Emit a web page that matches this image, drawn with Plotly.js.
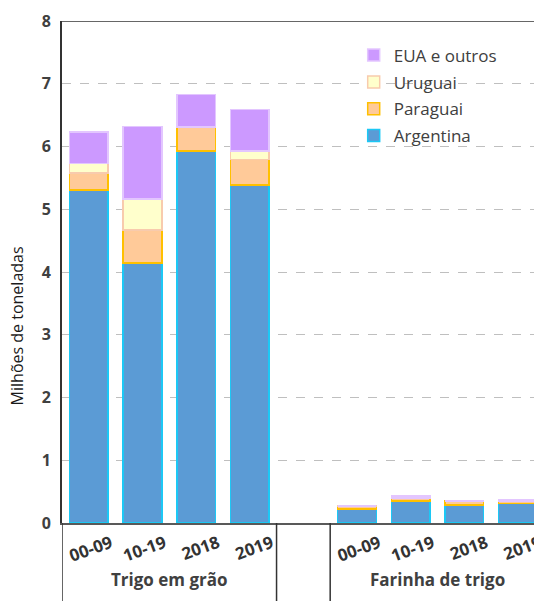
<!DOCTYPE html>
<html>
<head>
<meta charset="utf-8">
<script src="https://cdn.plot.ly/plotly-3.0.1.min.js"></script>
<style>html,body{margin:0;padding:0;background:#fff}#chart{width:534px;height:601px}</style>
</head>
<body>
<div id="chart"></div>
<script>
// Category slots (slot 4 is the empty gap between the two groups)
const categoryLabels = ["00-09", "10-19", "2018", "2019", "", "00-09", "10-19", "2018", "2019"];
const categoryPos = [0, 1, 2, 3, 4, 5, 6, 7, 8];
const barPos = [0, 1, 2, 3, 5, 6, 7, 8];
const groupLabels = ["Trigo em grão", "Farinha de trigo"];
const groupCenters = [1.5, 6.5];
const dividerPos = [-0.5, 3.5, 4.5];

// Millions of tonnes
const argentina = [5.31, 4.14, 5.93, 5.39, 0.22, 0.35, 0.29, 0.31];
const paraguai  = [0.27, 0.53, 0.38, 0.40, 0.04, 0.04, 0.06, 0.03];
const uruguai   = [0.15, 0.49, 0.00, 0.14, 0.01, 0.01, 0.00, 0.01];
const euaOutros = [0.50, 1.16, 0.52, 0.66, 0.00, 0.03, 0.00, 0.02];

const seriesNames = ["Argentina", "Paraguai", "Uruguai", "EUA e outros"];
const seriesData = [argentina, paraguai, uruguai, euaOutros];
const fills = ["#5B9BD5", "#FFCA99", "#FFFFCC", "#CC99FF"];
const borders = ["#1CC8F5", "#FFC000", "#F8CBAD", "#E3C6FF"];

const FONT = "'Open Sans', 'Noto Sans', sans-serif";

const traces = seriesData.map((vals, i) => ({
  type: "bar",
  name: seriesNames[i],
  x: barPos,
  y: vals,
  width: 0.72,
  legendgroup: "g" + i,
  legendrank: 4 - i,
  marker: {color: fills[i], line: {color: borders[i], width: 1.5}},
  hoverinfo: "skip"
}));

const shapes = [];
dividerPos.forEach(p => {
  shapes.push({type: "line", xref: "x", yref: "paper", x0: p, x1: p, y0: -0.16, y1: 0,
    line: {color: "#333333", width: 1.5}});
});
shapes.push({type: "line", xref: "paper", yref: "y", x0: 0, x1: 1, y0: 8, y1: 8,
  line: {color: "#333333", width: 1.5}});

const annotations = groupLabels.map((t, i) => ({
  text: t, x: groupCenters[i], xref: "x", y: -0.113, yref: "paper",
  showarrow: false, xanchor: "center", yanchor: "middle",
  font: {family: FONT, size: 17, color: "#404040", weight: "bold"}
}));
annotations.push({
  text: "Milhões de toneladas", textangle: -90, xref: "paper", yref: "paper",
  x: -0.095, y: 0.392, showarrow: false, xanchor: "center", yanchor: "middle",
  font: {family: FONT, size: 16, color: "#1a1a1a"}
});

const layout = {
  width: 534, height: 601,
  margin: {l: 62, r: 0, t: 21, b: 78},
  paper_bgcolor: "#ffffff", plot_bgcolor: "#ffffff",
  barmode: "stack",
  showlegend: true,
  legend: {
    x: 0.618, y: 0.967, xanchor: "left", yanchor: "top",
    traceorder: "grouped", tracegroupgap: 1.7,
    bgcolor: "rgba(0,0,0,0)",
    font: {family: FONT, size: 17, color: "#404040"},
    itemwidth: 30
  },
  xaxis: {
    type: "linear", range: [-0.5, 8.3],
    tickmode: "array", tickvals: categoryPos, ticktext: categoryLabels,
    tickangle: -20, ticks: "", ticklabelshift: 22, ticklabelstandoff: 2,
    ticklabeloverflow: "allow",
    tickfont: {family: FONT, size: 17, color: "#333333", weight: "bold"},
    showgrid: false, zeroline: false,
    showline: true, linecolor: "#595959", linewidth: 2,
    fixedrange: true
  },
  yaxis: {
    range: [0, 8], dtick: 1,
    showgrid: true, gridcolor: "#BFBFBF", griddash: "dash", gridwidth: 1,
    zeroline: false,
    showline: true, linecolor: "#333333", linewidth: 2,
    ticks: "", ticklabelstandoff: 6,
    tickfont: {family: FONT, size: 16, color: "#404040", weight: "bold"},
    fixedrange: true
  },
  shapes: shapes,
  annotations: annotations
};

Plotly.newPlot("chart", traces, layout, {displayModeBar: false, staticPlot: true});
</script>
</body>
</html>
